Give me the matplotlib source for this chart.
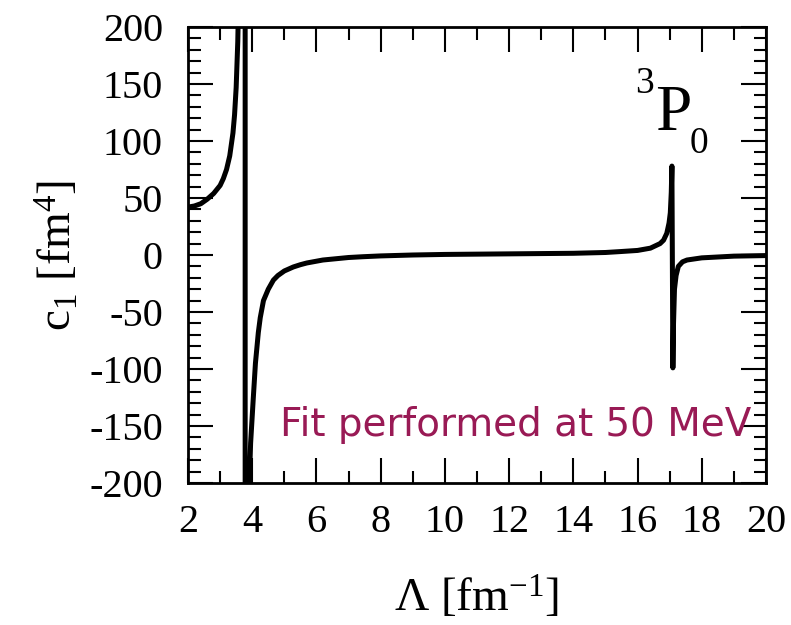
import numpy as np
import matplotlib
matplotlib.use("Agg")
import matplotlib.pyplot as plt
from matplotlib.ticker import MultipleLocator

plt.rcParams['font.family'] = ['Liberation Serif', 'DejaVu Serif']
plt.rcParams['mathtext.fontset'] = 'custom'
plt.rcParams['mathtext.rm'] = 'Liberation Serif'
plt.rcParams['mathtext.it'] = 'Liberation Serif:italic'
plt.rcParams['axes.unicode_minus'] = False

# c1(Lambda), 3P0 channel -- branch left of the pole near 3.8 fm^-1
left_lam = [2.0, 2.2, 2.4, 2.6, 2.8, 3.0, 3.1, 3.2, 3.3, 3.4, 3.45, 3.5,
            3.55, 3.6, 3.66, 3.72, 3.78]
left_c1 = [42, 43, 45, 49, 54, 61, 67, 75, 87, 107, 123, 147,
           187, 260, 450, 1000, 5000]

# branch right of the pole (incl. the narrow resonance near 17 fm^-1)
right_lam = [3.78, 3.85, 3.91, 3.95, 4.03, 4.1, 4.19, 4.25, 4.35, 4.5, 4.66,
             4.8, 5.0, 5.28, 5.5, 5.7, 6.2, 7.0, 7.45, 8.0, 9.0, 10.0, 12.0,
             14.0, 15.0, 15.46, 16.0, 16.4, 16.7, 16.81, 16.91, 16.98, 17.02,
             17.05, 17.07, 17.10, 17.12, 17.15, 17.2, 17.27, 17.4, 17.54,
             18.0, 19.0, 20.0]
right_c1 = [-5000, -400, -200, -165, -127, -95, -68, -55, -40, -30, -22,
            -18, -14, -10.5, -8.5, -7, -4.4, -2.2, -1.5, -0.8, 0, 0.5, 1,
            1.5, 2.2, 3, 4, 6, 10, 13, 19, 28, 37,
            55, 78, -99, -60, -30, -18, -10, -6, -4.4,
            -2.5, -1, -0.5]

lam = left_lam + right_lam
c1 = left_c1 + right_c1

W, H = 791, 625
fig = plt.figure(figsize=(W / 100, H / 100), dpi=100)
ax = fig.add_axes([188 / W, 1 - 483 / H, 578 / W, 456 / H])

ax.plot(lam, c1, color='black', lw=3.6)

ax.set_xlim(2, 20)
ax.set_ylim(-200, 200)
ax.xaxis.set_major_locator(MultipleLocator(2))
ax.xaxis.set_minor_locator(MultipleLocator(1))
ax.yaxis.set_major_locator(MultipleLocator(50))
ax.yaxis.set_minor_locator(MultipleLocator(10))
ax.tick_params(which='both', direction='in', top=True, right=True, width=1.5)
ax.tick_params(which='major', length=18, labelsize=29)
ax.tick_params(axis='y', which='major', pad=18)
ax.tick_params(axis='x', which='major', pad=15)
ax.tick_params(which='minor', length=9)
for s in ax.spines.values():
    s.set_linewidth(2)

ax.set_xlabel('Λ [fm$^{-1}$]', fontsize=34)
ax.xaxis.set_label_coords(0.5, -0.2)
ax.set_ylabel('c$_1$ [fm$^4$]', fontsize=34)
ax.yaxis.set_label_coords(-0.185, 0.5)

# channel label
fig.text(635 / W, 1 - 93 / H, '3', fontsize=27, ha='left', va='baseline')
fig.text(655 / W, 1 - 130 / H, 'P', fontsize=47, ha='left', va='baseline')
fig.text(690 / W, 1 - 153 / H, '0', fontsize=27, ha='left', va='baseline')

ax.text(12.2, -149, 'Fit performed at 50 MeV', color='#991a55',
        fontsize=28, ha='center', va='center', family='DejaVu Sans')

fig.savefig('out.png', dpi=100)
